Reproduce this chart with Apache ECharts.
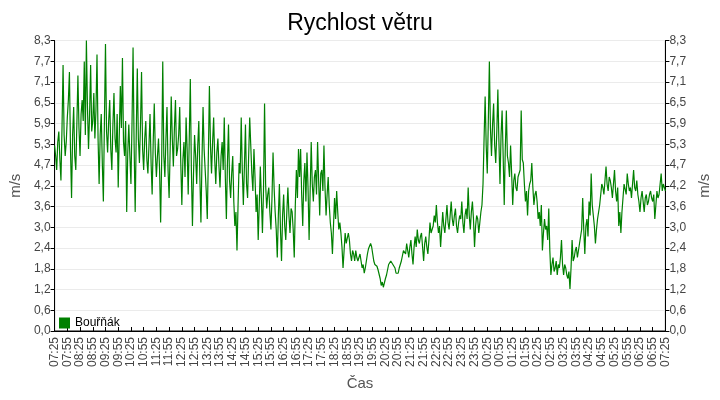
<!DOCTYPE html>
<html>
<head>
<meta charset="utf-8">
<script src="https://cdn.jsdelivr.net/npm/echarts@6/dist/echarts.min.js"></script>
<style>
  html, body { margin: 0; padding: 0; background: #fff; }
  #main { width: 720px; height: 400px; }
</style>
</head>
<body>
<div id="main"></div>
<script>
// wind speed every 2.5 minutes, 07:25 -> 07:25 next day (m/s)
const speed = [
  // 07:25 - 12:12
  5.3,5.0, 4.6,5.4, 5.7,4.9, 4.3,5.8, 7.6,5.6, 5.0,5.4, 6.1,6.6, 7.4,5.2, 3.8,5.6, 6.4,5.0,
  4.6,5.9, 7.3,5.8, 5.0,6.2, 6.6,6.0, 7.7,5.6, 8.3,6.4, 5.2,6.2, 7.6,5.7, 6.0,6.8, 5.5,6.3,
  7.9,5.5, 4.2,5.6, 6.2,4.8, 3.7,6.0, 8.2,5.7, 5.1,6.0, 6.6,5.2, 4.6,5.9, 6.8,5.5, 5.1,6.2,
  4.1,5.6, 7.0,5.8, 7.8,5.4, 5.0,6.0, 3.4,5.1, 5.9,5.0, 4.2,5.9, 8.1,5.3, 3.4,5.6, 7.5,5.5,
  4.8,5.9, 7.4,5.2, 4.6,5.5, 6.0,4.9, 4.5,5.3, 6.2,4.8, 3.9,5.4, 6.5,5.1, 4.4,5.0, 5.5,4.6,
  3.1,4.9, 7.7,5.0, 4.4,5.5, 6.4,4.6, 3.8,5.2, 6.7,5.5, 4.7,5.8, 6.6,5.0,
  // 12:15 - 17:02
  5.2,5.6, 6.4,4.8, 3.6,4.9, 5.4,4.4, 6.1,5.2, 3.9,5.5, 7.2,4.6, 3.0,4.5, 5.6,5.0, 4.2,5.3,
  6.0,4.4, 3.1,4.9, 6.4,5.2, 4.6,4.0, 3.2,5.0, 7.0,5.3, 4.5,5.4, 6.1,4.9, 4.2,5.1, 5.5,4.7,
  4.1,5.0, 5.4,4.6, 6.1,4.4, 3.2,4.8, 5.9,4.3, 3.8,4.5, 5.0,3.7, 3.0,3.4, 2.3,3.6, 4.8,4.5,
  6.1,4.6, 3.6,4.7, 5.9,4.2, 3.8,5.0, 6.1,5.3, 4.5,4.0, 5.2,4.4, 3.4,3.9, 2.6,3.6, 4.7,3.8,
  2.8,4.0, 6.5,4.2, 3.5,3.9, 4.1,3.4, 2.9,3.8, 5.1,4.1, 3.4,2.9, 2.1,3.3, 4.2,2.9, 2.0,3.3,
  3.9,3.0, 2.6,3.4, 4.1,3.3, 2.8,3.5, 3.4,2.9, 2.1,3.6, 4.6,3.8, 5.2,4.4,
  // 17:05 - 21:52
  5.2,3.9, 3.0,4.3, 4.8,3.7, 5.1,4.1, 2.6,4.0, 5.4,4.2, 3.7,4.4, 4.6,3.9, 5.4,4.3, 3.3,4.5,
  4.6,4.0, 5.3,4.1, 3.3,3.9, 4.4,3.6, 3.1,2.8, 2.2,3.0, 3.8,3.2, 4.0,3.4, 2.9,3.1, 2.8,2.4,
  1.8,2.3, 2.8,2.5, 2.5,2.8, 2.6,2.2, 2.0,2.3, 2.2,2.0, 2.3,2.1, 2.0,2.1, 2.2,2.0, 1.8,1.9,
  1.65,1.8, 2.0,2.2, 2.35,2.4, 2.5,2.4, 2.2,2.0, 1.9,1.9, 1.85,1.75, 1.7,1.5, 1.3,1.4, 1.25,1.3,
  1.5,1.6, 1.75,1.9, 1.95,2.0, 1.95,1.9, 1.9,1.8, 1.65,1.6, 1.65,1.8, 1.9,2.0, 2.15,2.3, 2.3,2.2,
  2.5,2.3, 2.1,2.4, 2.6,2.2, 1.9,2.4, 2.7,2.4, 2.9,2.6, 2.5,2.7, 2.8,2.4,
  // 21:55 - 02:42
  2.0,2.5, 2.7,2.4, 2.2,2.6, 3.1,2.8, 2.9,3.0, 3.3,3.1, 3.6,3.1, 2.8,3.0, 2.4,2.9, 3.4,3.0,
  2.8,3.2, 3.6,3.1, 2.9,3.3, 3.7,3.2, 3.0,3.3, 3.5,3.0, 2.8,3.1, 3.3,3.2, 3.7,3.1, 2.8,3.3,
  3.5,3.2, 4.1,3.3, 2.9,3.4, 3.7,3.2, 2.4,3.0, 3.3,3.2, 2.8,3.1, 3.4,3.6, 4.2,5.5, 6.7,5.3,
  4.5,6.0, 7.7,5.8, 5.0,5.9, 6.5,5.3, 4.8,5.7, 6.9,5.4, 4.2,5.6, 6.3,5.0, 3.6,5.2, 6.3,5.0,
  4.8,4.4, 5.3,4.5, 3.6,4.3, 4.5,4.1, 4.0,4.4, 4.4,4.6, 6.3,4.9, 4.8,4.2, 3.7,4.0, 3.3,4.0,
  4.2,4.3, 4.8,4.1, 3.6,3.9, 4.0,3.7, 3.2,3.4, 3.0,3.6, 2.3,2.8, 3.2,2.9,
  // 02:45 - 07:25
  3.0,2.6, 3.5,2.3, 1.6,1.9, 2.1,1.7, 1.8,2.0, 1.6,1.9, 1.8,2.1, 2.6,1.9, 1.6,1.9, 1.8,1.6,
  1.5,1.7, 1.2,1.8, 2.6,2.0, 2.1,2.3, 2.4,2.1, 2.3,2.5, 2.7,2.9, 3.8,2.9, 2.2,3.0, 3.2,2.7,
  3.7,3.3, 4.5,3.6, 3.3,3.0, 2.5,2.9, 3.2,3.4, 3.6,3.9, 4.2,4.1, 3.9,4.3, 4.7,4.2, 4.0,4.4,
  4.3,4.1, 3.8,4.2, 4.6,4.0, 3.7,4.1, 3.0,3.4, 2.8,3.4, 3.8,4.2, 4.2,3.9, 4.5,4.2, 4.0,4.1,
  3.8,4.2, 4.6,4.1, 4.0,4.3, 3.9,3.7, 3.4,3.8, 4.0,3.7, 3.4,3.8, 3.9,3.6, 3.7,3.9, 4.0,3.8,
  3.7,3.9, 3.2,3.6, 4.0,3.8, 3.9,4.2, 4.5,4.0, 4.2,4.1, 4.0
];

const yTickLabels = ['0,0', '0,6', '1,2', '1,8', '2,4', '3,0', '3,6', '4,2', '4,7', '5,3', '5,9', '6,5', '7,1', '7,7', '8,3'];
const yMax = 8.3;
const yStep = yMax / (yTickLabels.length - 1);

// time categories, 2.5 minute step starting 07:25:00
const startSecond = (7 * 60 + 25) * 60;
const stepSeconds = 150;
const pad = n => (n < 10 ? '0' : '') + n;
const times = speed.map((v, i) => {
    const s = (startSecond + i * stepSeconds) % 86400;
    return pad(Math.floor(s / 3600)) + ':' + pad(Math.floor(s / 60) % 60) + ':' + pad(s % 60);
});

var myChart = echarts.init(document.getElementById('main'));

const font = 'Liberation Sans, Arial, sans-serif';
const yLabel = v => yTickLabels[Math.round(v / yStep)];

const yAxisBase = {
    type: 'value',
    min: 0,
    max: yMax,
    interval: yStep,
    name: 'm/s',
    nameLocation: 'middle',
    nameGap: 27,
    nameTextStyle: { color: '#555', fontSize: 15, fontFamily: font },
    axisLine: { show: true, lineStyle: { color: '#000' } },
    axisTick: { show: true, length: 4, lineStyle: { color: '#000' } },
    axisLabel: { color: '#444', fontSize: 12, fontFamily: font, margin: 4, formatter: yLabel },
    splitLine: { lineStyle: { color: '#ebebeb' } }
};

var option = {
    animation: false,
    title: {
        text: 'Rychlost větru',
        left: 'center',
        top: 7,
        textStyle: { color: '#000', fontSize: 23, fontWeight: 'normal', fontFamily: font }
    },
    legend: {
        left: 54,
        top: 312,
        itemWidth: 11,
        itemHeight: 11,
        icon: 'rect',
        textStyle: { color: '#000', fontSize: 12, fontFamily: font }
    },
    grid: {
        left: 48, right: 48.5, top: 40.5, bottom: 69,
        show: true, borderColor: '#000', borderWidth: 1
    },
    xAxis: {
        type: 'category',
        data: times,
        boundaryGap: false,
        name: 'Čas',
        nameLocation: 'middle',
        nameGap: 45,
        nameTextStyle: { color: '#555', fontSize: 15, fontFamily: font },
        axisLine: { lineStyle: { color: '#000' } },
        axisTick: { interval: 11, inside: true, length: 4, lineStyle: { color: '#000' } },
        axisLabel: {
            interval: 11, rotate: 90, color: '#444', fontSize: 12, fontFamily: font, margin: 6,
            formatter: v => v.slice(0, 5)
        },
        splitLine: { show: false }
    },
    yAxis: [
        Object.assign({}, yAxisBase, { position: 'left' }),
        Object.assign({}, yAxisBase, { position: 'right', splitLine: { show: false } })
    ],
    series: [
        {
            name: 'Bouřňák',
            type: 'line',
            data: speed,
            yAxisIndex: 0,
            showSymbol: false,
            lineStyle: { color: '#008000', width: 1.2 },
            itemStyle: { color: '#008000' }
        }
    ]
};

myChart.setOption(option);
</script>
</body>
</html>
